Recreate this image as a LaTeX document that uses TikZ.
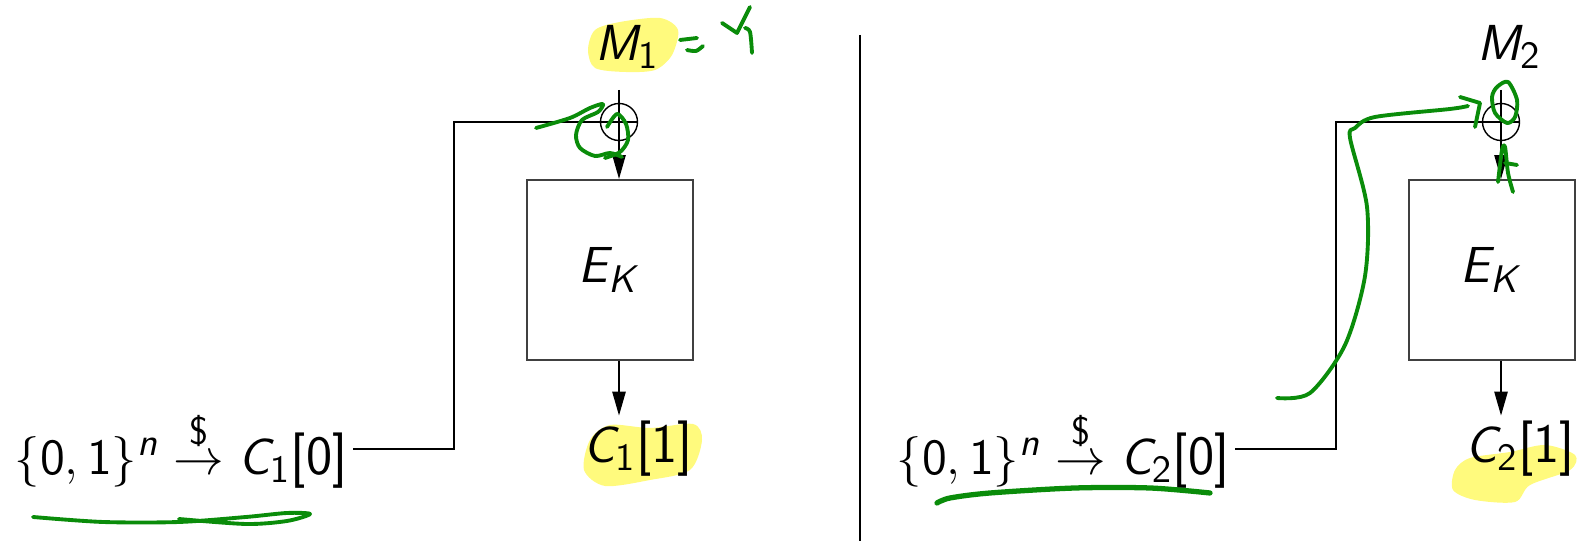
\documentclass[tikz,border=0pt]{standalone}
\usepackage{amsmath,amssymb}
\usetikzlibrary{positioning, calc, arrows.meta}
\DeclareMathAlphabet{\mathsfit}{OT1}{cmss}{m}{sl}
\DeclareMathAlphabet{\mathsfup}{OT1}{cmss}{m}{n}
\newcommand{\sqb}[1]{\text{\sffamily[#1]}}
\newcommand{\ivtext}[1]{$\{\mathsfup{0},\mathsfup{1}\}^{\mathsfit{n}} \overset{\text{\sffamily\$}}{\rightarrow} \mathsfit{C}_{\mathsfup{#1}}\sqb{0}$}
\definecolor{inkgreen}{RGB}{10,140,10}
\definecolor{hlyellow}{RGB}{255,250,125}

\begin{document}
\begin{tikzpicture}[
    every node/.style={font=\fontsize{15.8}{19}\selectfont},
    blockbox/.style={draw=black!75, semithick, minimum width=1.66cm, minimum height=1.80cm, inner sep=0pt},
    xorsym/.style={draw, circle, minimum size=0.37cm, inner sep=0pt},
    flow/.style={-{Triangle[length=6.8pt,width=3.8pt]}},
    ink/.style={draw=inkgreen, line width=1.1pt, line cap=round, line join=round},
    hilite/.style={fill=hlyellow, draw=none}]
            \useasboundingbox (0,0) rectangle (15.83,5.41);

            % Highlights (behind the text)
            \fill[hilite] plot[smooth cycle] coordinates {(5.95,5.11) (6.20,5.19) (6.60,5.23) (6.78,5.11) (6.72,4.86) (6.55,4.71) (6.25,4.69) (5.95,4.73) (5.88,4.91)};
            \fill[hilite] plot[smooth cycle] coordinates {(5.90,1.01) (5.84,0.71) (6.05,0.55) (6.50,0.61) (6.90,0.71) (7.02,1.01) (6.93,1.17) (6.50,1.13) (6.10,1.16)};
            \fill[hilite] plot[smooth cycle] coordinates {(14.55,0.71) (14.70,0.83) (15.10,0.89) (15.45,0.96) (15.75,0.86) (15.70,0.71) (15.30,0.56) (15.15,0.39) (14.75,0.41) (14.53,0.51)};

            % Divider
            \coordinate (divtop) at (8.60,5.06);
            \coordinate (divbot) at (8.60,0);
            \draw (divtop) -- (divbot);

            % Left: first message
            \node[anchor=east, inner sep=0.5mm] (iv1) at (3.53,0.92) {\ivtext{1}};
            \node (m1) at (6.27,4.94) {$\mathsfit{M}_{\mathsfup{1}}$};
            \node[xorsym] (x1) at (6.19,4.19) {};
            \node[blockbox] (e1) at (6.10,2.71) {$\mathsfit{E}_{\mathsfit{K}}$};
            \node[inner sep=0.5mm] (c1) at (6.38,0.92) {$\mathsfit{C}_{\mathsfup{1}}\sqb{1}$};
            \coordinate (top1) at (6.19,4.51);
            \coordinate (bend1) at (4.54,0.92);

            \draw (iv1.east) -- (bend1) |- (x1.east);
            \draw[flow] (top1) -- (x1.center) -- (e1.north -| x1);
            \draw[flow] (e1.south -| x1) -- (x1 |- c1.north);

            % Right: second message
            \node[anchor=east, inner sep=0.5mm] (iv2) at (12.35,0.92) {\ivtext{2}};
            \node (m2) at (15.09,4.94) {$\mathsfit{M}_{\mathsfup{2}}$};
            \node[xorsym] (x2) at (15.01,4.19) {};
            \node[blockbox] (e2) at (14.92,2.71) {$\mathsfit{E}_{\mathsfit{K}}$};
            \node[inner sep=0.5mm] (c2) at (15.20,0.92) {$\mathsfit{C}_{\mathsfup{2}}\sqb{1}$};
            \coordinate (top2) at (15.01,4.51);
            \coordinate (bend2) at (13.36,0.92);

            \draw (iv2.east) -- (bend2) |- (x2.east);
            \draw[flow] (top2) -- (x2.center) -- (e2.north -| x2);
            \draw[flow] (e2.south -| x2) -- (x2 |- c2.north);

            % Handwritten notes
            \draw[ink] (6.80,5.01) -- (6.97,5.03);
            \draw[ink] plot[smooth] coordinates {(6.87,4.91) (6.96,4.90) (7.03,4.95)};
            \draw[ink] (7.22,5.18) -- (7.37,5.08) -- (7.50,5.34);
            \draw[ink] plot[smooth] coordinates {(7.45,5.13) (7.50,5.09) (7.52,4.88)};
            \draw[ink] plot[smooth] coordinates {(5.36,4.13) (5.70,4.23) (5.90,4.33) (6.03,4.37) (5.98,4.29) (5.82,4.21) (5.76,4.06) (5.80,3.93) (5.95,3.85) (6.10,3.88) (6.22,3.84)};
            \draw[ink] plot[smooth] coordinates {(6.07,4.14) (6.17,4.27) (6.26,4.17) (6.28,4.01) (6.20,3.89) (6.05,3.83)};
            \draw[ink] plot[smooth] coordinates {(0.33,0.24) (1.03,0.19) (1.79,0.19) (2.46,0.24) (2.87,0.28) (3.10,0.27) (2.87,0.20) (2.46,0.17) (1.79,0.22)};

            \draw[ink, line width=1.5pt] plot[smooth] coordinates {(9.37,0.38) (9.50,0.43) (9.90,0.48) (10.75,0.53) (11.50,0.53) (12.10,0.48)};
            \draw[ink] plot[smooth] coordinates {(12.77,1.43) (13.10,1.48) (13.45,1.96) (13.65,2.65) (13.67,3.34) (13.50,4.03) (13.55,4.13) (13.75,4.24) (14.50,4.32) (14.68,4.35)};
            \draw[ink] (14.60,4.44) -- (14.80,4.38) -- (14.75,4.14);
            \draw[ink] plot[smooth cycle] coordinates {(14.97,4.54) (15.08,4.59) (15.17,4.41) (15.15,4.24) (15.07,4.18) (14.95,4.28) (14.92,4.44)};
            \draw[ink] plot[smooth] coordinates {(14.98,3.59) (15.02,3.91) (15.05,3.94) (15.08,3.68) (15.13,3.49)};
            \draw[ink] (15.05,3.78) -- (15.17,3.76);
        \end{tikzpicture}
\end{document}
